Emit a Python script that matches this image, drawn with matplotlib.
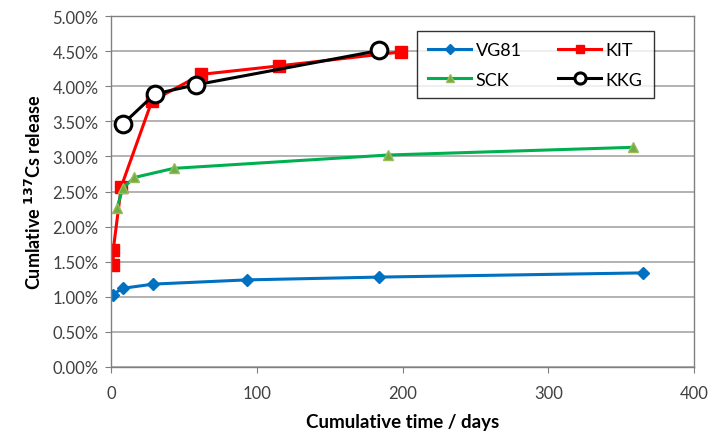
import matplotlib.pyplot as plt
from matplotlib.ticker import FuncFormatter

plt.rcParams['font.family'] = ['Lato', 'DejaVu Sans']

# Daten (kumulative Zeit in Tagen, Freisetzung in %)
vg81_days = [1, 8, 29, 93, 184, 365]
vg81_rel = [1.03, 1.12, 1.18, 1.24, 1.28, 1.34]

kit_days = [1.5, 1.5, 7, 28, 62, 115, 199]
kit_rel = [1.45, 1.67, 2.57, 3.79, 4.17, 4.29, 4.49]

sck_days = [4, 8, 16, 43, 190, 358]
sck_rel = [2.26, 2.55, 2.70, 2.83, 3.02, 3.13]

kkg_days = [8, 30, 58, 184]
kkg_rel = [3.46, 3.89, 4.02, 4.51]

fig = plt.figure(figsize=(7.12, 4.39), dpi=100)
ax = fig.add_axes([0.156, 0.162, 0.819, 0.799])

l1, = ax.plot(vg81_days, vg81_rel, '-D', color='#0070C0', lw=2.2, ms=6,
              label='VG81')
l2, = ax.plot(kit_days, kit_rel, '-s', color='#FF0000', lw=2.2, ms=9,
              label='KIT')
l3, = ax.plot(sck_days, sck_rel, '-^', color='#00B050', lw=2.2, ms=7,
              mfc='#70AD47', mec='#9BBB59', label='SCK')
l4, = ax.plot(kkg_days, kkg_rel, '-o', color='black', lw=2.2, ms=12,
              mfc='white', mec='black', mew=2.2, label='KKG')

ax.set_xlim(0, 400)
ax.set_ylim(0, 5)
ax.set_xticks([0, 100, 200, 300, 400])
ax.set_yticks([i * 0.5 for i in range(11)])
ax.yaxis.set_major_formatter(FuncFormatter(lambda v, p: f'{v:.2f}%'))

ax.grid(axis='y', color='#A6A6A6', lw=1.2)
ax.set_axisbelow(True)
for s in ax.spines.values():
    s.set_color('#808080')
    s.set_linewidth(1.0)
ax.tick_params(direction='out', length=4, color='#808080',
               labelsize=12, labelcolor='#404040')
ax.tick_params(axis='x', pad=9)
ax.tick_params(axis='y', pad=5)

ax.set_xlabel('Cumulative time / days', fontsize=13.5, fontweight='bold',
              labelpad=9)
ax.set_ylabel('Cumlative $^{\\mathbf{137}}$Cs release', fontsize=13,
              fontweight='bold', labelpad=6)

# Reihenfolge so, dass die Legende zeilenweise VG81, KIT / SCK, KKG zeigt
leg = ax.legend([l1, l3, l2, l4], ['VG81', 'SCK', 'KIT', 'KKG'], ncol=2,
                loc='upper left', bbox_to_anchor=(0.525, 0.957),
                fontsize=13, frameon=True, fancybox=False, edgecolor='black',
                handlelength=2.4, handletextpad=0.25, columnspacing=2.0,
                borderpad=0.6, labelspacing=0.75, borderaxespad=0)
leg.get_frame().set_linewidth(1.0)
for h, ms in zip(leg.legend_handles, [5, 6, 6, 8]):
    h.set_markersize(ms)

plt.savefig('out.png', dpi=100)
